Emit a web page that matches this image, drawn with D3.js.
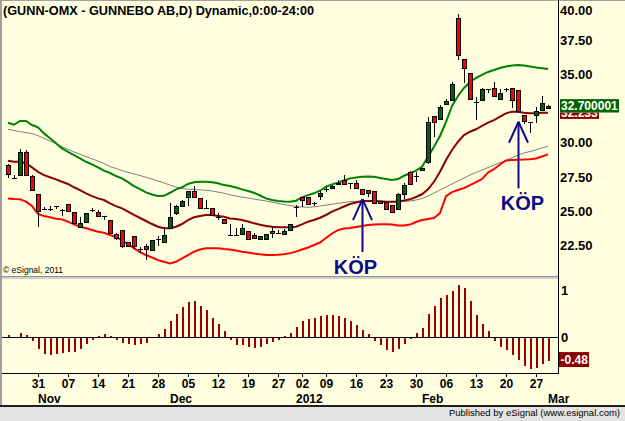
<!DOCTYPE html>
<html>
<head>
<meta charset="utf-8">
<script src="https://cdn.jsdelivr.net/npm/d3@7"></script>
<style>
  body { margin: 0; background: #fff; }
  svg { display: block; }
  text { font-family: "Liberation Sans", Arial, sans-serif; }
</style>
</head>
<body>
<svg id="chart" width="625" height="421"></svg>
<script>
// GUNN-OMX daily bars, 24 Oct 2011 .. 29 Feb 2012 (91 sessions)
var open = [28.38,27.42,27.65,29.31,27.60,26.25,25.15,25.20,25.40,25.13,
  25.52,24.93,23.88,24.20,25.10,24.93,24.66,24.37,23.35,23.64,
  22.75,23.20,22.23,22.47,22.18,23.00,22.75,23.81,24.91,25.41,
  26.07,26.51,25.95,25.28,25.23,24.60,24.43,23.30,23.30,23.35,
  23.55,23.30,22.97,22.97,23.58,23.40,23.33,23.64,25.30,26.03,
  26.03,25.63,26.12,26.60,26.68,26.98,27.27,27.05,27.10,26.61,
  26.54,26.48,25.76,25.70,25.46,25.15,26.25,27.90,27.60,28.00,
  28.58,31.96,31.72,32.81,33.12,39.08,36.09,35.07,33.00,33.12,
  33.93,33.98,33.17,33.95,34.00,33.85,32.03,31.52,32.03,32.39,
  32.56];
var high = [28.45,27.65,29.53,29.47,27.65,26.30,25.35,25.40,25.42,25.15,
  25.55,24.95,24.57,24.90,25.25,25.10,24.68,24.40,23.40,23.66,
  22.80,23.22,22.38,22.60,22.95,23.20,23.90,25.63,25.45,25.80,
  26.50,26.85,25.98,25.83,25.25,24.85,24.45,24.10,23.80,24.07,
  23.58,23.42,23.22,23.37,23.93,23.65,23.70,24.10,25.47,26.07,
  26.05,25.70,26.50,26.76,26.90,27.30,27.65,27.07,27.29,26.63,
  26.56,26.50,25.78,25.72,25.48,26.37,27.10,27.95,27.90,28.16,
  31.86,31.98,32.75,33.20,34.46,39.40,36.11,35.10,33.36,34.00,
  33.95,34.46,33.90,33.97,34.02,33.87,32.05,31.54,32.60,33.42,
  32.75];
var low = [27.46,27.42,27.60,27.60,26.50,23.84,25.15,25.00,25.20,24.70,
  25.00,24.10,23.85,24.18,24.95,24.57,24.37,23.40,22.90,22.30,
  22.40,22.24,21.94,21.45,22.15,22.50,22.73,23.78,24.75,25.38,
  25.41,26.05,25.25,25.28,24.72,24.37,24.10,23.30,23.30,23.33,
  22.90,22.98,22.95,22.95,23.08,23.35,23.25,23.62,24.62,25.34,
  25.50,25.40,25.83,26.44,26.65,26.90,26.93,26.60,26.66,26.23,
  26.07,25.57,25.57,25.13,24.96,25.13,25.90,26.95,27.16,27.98,
  28.46,30.40,31.70,32.79,33.10,36.04,34.34,33.10,31.66,33.10,
  33.60,33.40,33.15,33.70,32.52,32.20,31.35,30.74,31.47,32.37,
  32.50];
var close = [27.70,27.42,29.35,27.65,26.56,25.03,25.15,25.20,25.40,25.13,
  25.00,24.13,24.13,24.85,25.10,24.69,24.66,23.40,23.04,22.47,
  22.47,22.47,22.23,22.26,22.91,23.00,23.28,24.57,25.38,25.77,
  26.48,26.07,25.28,25.28,24.74,24.60,24.13,23.30,23.30,23.77,
  23.00,23.08,23.20,23.35,23.41,23.40,23.57,24.07,25.30,25.83,
  25.52,25.63,26.32,26.60,26.85,27.10,26.98,27.05,26.68,26.25,
  26.36,25.59,25.59,25.15,24.98,26.25,26.92,26.98,27.60,28.14,
  31.50,31.50,32.64,33.05,34.27,36.40,35.44,33.17,33.00,33.90,
  33.93,33.42,33.61,33.95,33.12,32.32,31.59,31.52,32.32,32.88,
  32.70];

// study lines
var upperBand = [31.47,31.32,31.60,31.60,31.30,31.13,30.69,30.33,29.97,29.60,
  29.35,29.11,28.87,28.62,28.43,28.21,27.97,27.80,27.58,27.41,
  27.14,26.85,26.63,26.39,26.23,26.12,26.14,26.36,26.61,26.76,
  27.00,27.12,27.16,27.16,27.12,27.05,26.92,26.85,26.74,26.61,
  26.49,26.36,26.16,25.95,25.83,25.76,25.72,25.71,25.78,26.03,
  26.19,26.32,26.51,26.80,26.97,27.09,27.25,27.41,27.47,27.53,
  27.54,27.53,27.43,27.36,27.29,27.36,27.60,27.78,27.97,28.26,
  28.99,29.72,30.50,31.52,32.69,33.42,34.00,34.44,34.73,34.95,
  35.17,35.31,35.46,35.57,35.64,35.68,35.64,35.57,35.49,35.44,
  35.38];
var midBand = [28.70,28.62,28.62,28.51,28.21,27.89,27.65,27.49,27.34,27.16,
  27.00,26.76,26.56,26.32,26.12,25.95,25.83,25.59,25.39,25.22,
  24.99,24.74,24.52,24.30,24.08,23.88,23.77,23.77,23.88,24.08,
  24.37,24.57,24.66,24.74,24.74,24.66,24.61,24.49,24.44,24.37,
  24.26,24.13,24.03,23.93,23.88,23.84,23.84,23.84,23.88,24.06,
  24.25,24.37,24.54,24.74,24.98,25.17,25.36,25.54,25.65,25.76,
  25.76,25.76,25.74,25.71,25.71,25.71,25.79,25.88,26.05,26.25,
  26.61,27.16,27.89,28.75,29.48,30.08,30.57,30.81,30.99,31.23,
  31.47,31.66,31.91,32.15,32.27,32.27,32.20,32.15,32.15,32.20,
  32.20];
var lowerBand = [25.95,25.90,25.88,25.71,25.39,24.81,24.66,24.57,24.47,24.42,
  24.25,24.06,23.88,23.77,23.64,23.52,23.44,23.28,23.13,22.91,
  22.62,22.31,22.04,21.82,21.64,21.45,21.33,21.21,21.33,21.58,
  21.82,22.06,22.23,22.31,22.31,22.31,22.26,22.22,22.15,22.06,
  22.00,21.93,21.87,21.82,21.82,21.84,21.87,21.96,22.07,22.22,
  22.37,22.55,22.73,23.06,23.39,23.64,23.75,23.79,23.86,23.93,
  24.01,24.04,24.06,24.06,24.04,23.97,23.97,24.04,24.23,24.37,
  24.44,24.52,24.88,26.12,26.41,26.56,26.70,26.92,27.14,27.36,
  27.84,28.09,28.42,28.71,28.75,28.77,28.78,28.80,28.86,29.00,
  29.16];
var slowAvg = [30.99,30.90,30.81,30.75,30.67,30.53,30.33,30.13,29.93,29.72,
  29.53,29.33,29.18,29.00,28.83,28.67,28.49,28.27,28.13,27.98,
  27.85,27.74,27.62,27.49,27.36,27.22,27.07,26.92,26.78,26.67,
  26.62,26.60,26.57,26.54,26.49,26.41,26.33,26.21,26.12,26.05,
  25.98,25.90,25.83,25.76,25.67,25.59,25.50,25.43,25.37,25.32,
  25.30,25.33,25.39,25.46,25.52,25.59,25.65,25.71,25.73,25.74,
  25.76,25.74,25.72,25.71,25.72,25.73,25.74,25.76,25.83,25.94,
  26.12,26.34,26.56,26.78,27.00,27.22,27.43,27.65,27.84,28.02,
  28.20,28.38,28.56,28.73,28.91,29.11,29.26,29.37,29.49,29.62,
  29.77];

// lower panel histogram
var osc = [0.035,-0.007,0.08,0.035,-0.057,-0.23,-0.34,-0.36,-0.34,-0.32,
  -0.30,-0.30,-0.23,-0.13,-0.035,0.014,0.057,0.014,-0.035,-0.106,
  -0.13,-0.15,-0.13,-0.106,-0.007,0.057,0.16,0.33,0.50,0.63,
  0.745,0.76,0.65,0.57,0.41,0.27,0.12,-0.035,-0.15,-0.15,
  -0.19,-0.21,-0.19,-0.13,-0.085,-0.035,0.014,0.085,0.21,0.33,
  0.38,0.40,0.45,0.46,0.46,0.44,0.40,0.33,0.25,0.14,
  0.057,-0.057,-0.15,-0.25,-0.30,-0.23,-0.13,-0.02,0.085,0.19,
  0.48,0.67,0.83,0.90,0.97,1.10,1.04,0.77,0.46,0.27,
  0.12,-0.057,-0.19,-0.25,-0.37,-0.475,-0.59,-0.65,-0.64,-0.55,
  -0.48];

// axis labels
var priceTicks = [22.5, 25, 27.5, 30, 32.5, 35, 37.5, 40];
var oscTicks = [0, 1];
var dayTickIdx = [5,10,15,20,25,30,35,40,45,49,53,58,63,68,73,78,83,88];
var dayTickLbl = ['31','07','14','21','28','05','12','19','27','02','09','16','23','30','06','13','20','27'];
var monthIdx = [6, 28, 49, 70, 91];
var monthLbl = ['Nov','Dec','2012','Feb','Mar'];

// buy signals
var buyIdx = [59, 85];
var buyTip = [25.90, 31.54];
var buyTail = [22.04, 26.68];
var buyLabelShift = [-7, 4];

var lastCloseLbl = '32.700001';
var lastMid = 32.233;
var lastMidLbl = '32.233';
var lastOscLbl = '-0.48';

var svg = d3.select('#chart');
var W = 625, H = 421;
var plotL = 2, plotR = 559;

var x = d3.scaleLinear().domain([0, 90]).range([8, 548]);
var y = d3.scaleLinear().domain([22.5, 37.5]).range([245.7, 40]);
var yo = d3.scaleLinear().domain([0, 1]).range([337, 290]);

// background + frame
svg.append('rect').attr('width', W).attr('height', H).attr('fill', '#ffffe0');
svg.append('rect').attr('x', 0).attr('y', 0).attr('width', 2).attr('height', 406).attr('fill', '#a0a0a0');
svg.append('rect').attr('x', 0).attr('y', 0).attr('width', W).attr('height', 1).attr('fill', '#a0a0a0');

// status bar
svg.append('rect').attr('x', 0).attr('y', 406).attr('width', W).attr('height', 15).attr('fill', '#e4e4e4');
svg.append('rect').attr('x', 0).attr('y', 405).attr('width', W).attr('height', 2).attr('fill', '#202020');
svg.append('text').attr('x', 620).attr('y', 416).attr('text-anchor', 'end')
  .attr('font-size', '9.5px').attr('fill', '#000')
  .text('Published by eSignal (www.esignal.com)');

// panel separator
svg.append('rect').attr('x', plotL).attr('y', 276).attr('width', plotR - plotL).attr('height', 3).attr('fill', '#d0d0d0');
svg.append('rect').attr('x', plotL).attr('y', 276).attr('width', plotR - plotL).attr('height', 1).attr('fill', '#909090');

// right axis line
svg.append('rect').attr('x', plotR - 1).attr('y', 0).attr('width', 1).attr('height', 374).attr('fill', '#000');

// title
svg.append('text').attr('x', 3).attr('y', 15).attr('font-size', '12.7px').attr('font-weight', 'bold')
  .attr('fill', '#000').text('(GUNN-OMX - GUNNEBO AB,D) Dynamic,0:00-24:00');

svg.append('text').attr('x', 3).attr('y', 273).attr('font-size', '8.5px').attr('fill', '#000')
  .text('\u00a9 eSignal, 2011');

var main = svg.append('g');

function drawLine(vals, color, w) {
  main.append('path')
    .datum(vals)
    .attr('fill', 'none')
    .attr('stroke', color)
    .attr('stroke-width', w)
    .attr('d', d3.line().x(function (d, i) { return x(i); }).y(function (d) { return y(d); }));
}
drawLine(slowAvg, '#808080', 1);
drawLine(upperBand, '#008000', 2);
drawLine(lowerBand, '#ff0000', 2);
drawLine(midBand, '#8b0000', 2);

// candles
var candles = main.append('g').attr('shape-rendering', 'crispEdges');
open.forEach(function (o, i) {
  var c = close[i], cx = Math.round(x(i));
  candles.append('line')
    .attr('x1', cx + 0.5).attr('x2', cx + 0.5)
    .attr('y1', y(high[i])).attr('y2', y(low[i]))
    .attr('stroke', '#000').attr('stroke-width', 1);
  if (o === c) {
    candles.append('rect')
      .attr('x', cx - 2).attr('width', 5)
      .attr('y', Math.round(y(c))).attr('height', 1.2)
      .attr('fill', '#000');
  } else {
    var top = Math.round(y(Math.max(o, c))), bot = Math.round(y(Math.min(o, c)));
    candles.append('rect')
      .attr('x', cx - 1.5).attr('width', 4)
      .attr('y', top + 0.5).attr('height', Math.max(1, bot - top))
      .attr('fill', c > o ? '#006400' : '#ff0000')
      .attr('stroke', '#000').attr('stroke-width', 1);
  }
});

// buy arrows
var navy = '#0c0c8a';
buyIdx.forEach(function (bi, k) {
  var ax = x(bi) + 0.5, ty = y(buyTip[k]), by = y(buyTail[k]);
  var g = svg.append('g').attr('stroke', navy).attr('stroke-width', 2).attr('fill', 'none');
  g.append('line').attr('x1', ax).attr('x2', ax).attr('y1', ty).attr('y2', by);
  g.append('line').attr('x1', ax).attr('y1', ty).attr('x2', ax - 9.5).attr('y2', ty + 21);
  g.append('line').attr('x1', ax).attr('y1', ty).attr('x2', ax + 9.5).attr('y2', ty + 21);
  svg.append('text').attr('x', ax + buyLabelShift[k]).attr('y', by + 22)
    .attr('text-anchor', 'middle').attr('font-size', '20px').attr('font-weight', 'bold')
    .attr('fill', navy).text('K\u00d6P');
});

// price axis labels (the one under the last-value boxes is hidden, as on screen)
var yClose = y(close[close.length - 1]);
priceTicks.forEach(function (p) {
  if (Math.abs(y(p) - yClose) < 10) return;
  var ty = Math.max(y(p), 10.7);
  svg.append('text').attr('x', 560).attr('y', ty + 4.6)
    .attr('font-size', '13px').attr('font-weight', 'bold').attr('fill', '#000')
    .text(d3.format('.2f')(p));
});

// last value boxes (the close box sits on top of the mid-band box)
function valueBox(py, w, fill, label) {
  var g = svg.append('g');
  g.append('rect').attr('x', 560).attr('y', py - 6.7).attr('width', w).attr('height', 13.4).attr('fill', fill);
  g.append('text').attr('x', 561).attr('y', py + 4.4)
    .attr('font-size', '12px').attr('font-weight', 'bold').attr('fill', '#fff').text(label);
  return g;
}
var midBox = valueBox(y(lastMid), 39, '#8b0000', lastMidLbl);
svg.append('clipPath').attr('id', 'midclip').append('rect')
  .attr('x', 560).attr('y', yClose + 6.7).attr('width', 60).attr('height', 20);
midBox.attr('clip-path', 'url(#midclip)');
valueBox(yClose, 59, '#006400', lastCloseLbl);

// oscillator panel
svg.append('rect').attr('x', plotL).attr('y', yo(0)).attr('width', plotR - plotL).attr('height', 1).attr('fill', '#000');
svg.append('g').attr('shape-rendering', 'crispEdges').selectAll('rect')
  .data(osc).enter().append('rect')
  .attr('x', function (d, i) { return Math.round(x(i)) - 0.5; })
  .attr('width', 2)
  .attr('y', function (d) { return d >= 0 ? yo(d) : yo(0) + 1; })
  .attr('height', function (d) { return Math.abs(yo(d) - yo(0)); })
  .attr('fill', '#990000');

oscTicks.forEach(function (t) {
  svg.append('text').attr('x', 561).attr('y', yo(t) + 4.6)
    .attr('font-size', '13px').attr('font-weight', 'bold').attr('fill', '#000').text(t);
});
var lastOsc = osc[osc.length - 1];
svg.append('rect').attr('x', 559).attr('y', yo(lastOsc) - 7.5).attr('width', 30).attr('height', 15).attr('fill', '#8b0000');
svg.append('text').attr('x', 560.5).attr('y', yo(lastOsc) + 4.4)
  .attr('font-size', '12px').attr('font-weight', 'bold').attr('fill', '#fff').text(lastOscLbl);

// date axis
svg.append('rect').attr('x', plotL).attr('y', 373).attr('width', plotR - plotL).attr('height', 1).attr('fill', '#000');
dayTickIdx.forEach(function (di, k) {
  var tx = Math.round(x(di));
  svg.append('rect').attr('x', tx).attr('y', 374).attr('width', 1).attr('height', 3).attr('fill', '#000');
  svg.append('text').attr('x', tx + 0.5).attr('y', 387.5).attr('text-anchor', 'middle')
    .attr('font-size', '12px').attr('font-weight', 'bold').attr('fill', '#000').text(dayTickLbl[k]);
});
monthIdx.forEach(function (mi, k) {
  svg.append('text').attr('x', x(mi) - 6).attr('y', 403).attr('font-size', '12px')
    .attr('font-weight', 'bold').attr('fill', '#000').text(monthLbl[k]);
});
</script>
</body>
</html>
